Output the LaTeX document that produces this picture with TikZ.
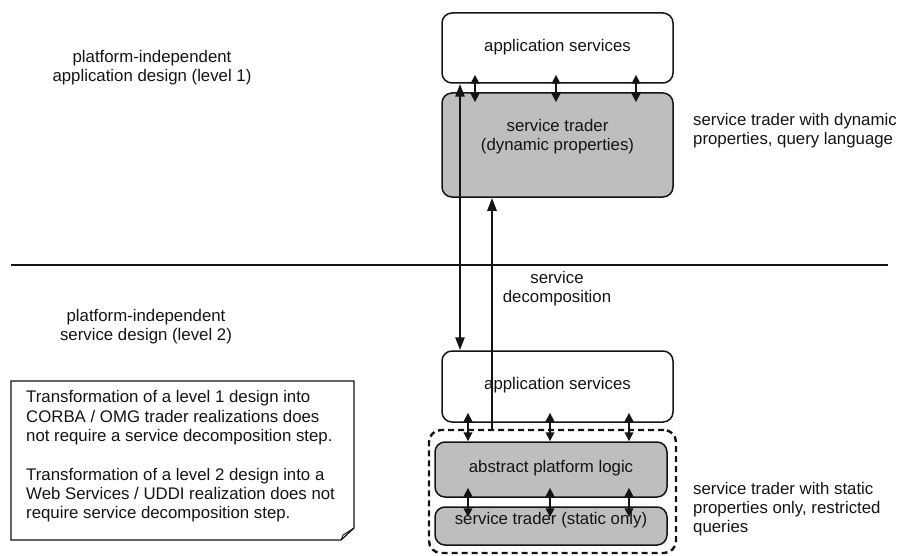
\documentclass[tikz,border=0pt]{standalone}
\usepackage{fontspec}
\setmainfont{Liberation Sans}
\usetikzlibrary{arrows.meta,calc}
\definecolor{boxgray}{RGB}{190,190,190}
\definecolor{inkblack}{RGB}{20,20,20}
\tikzset{
  txt/.style={font=\fontsize{16.8}{19.3}\selectfont, text=inkblack, inner sep=0pt},
  layerbox/.style={draw=inkblack, line width=1.5pt, rounded corners=10pt, inner sep=0pt},
  whitebox/.style={layerbox, fill=white},
  graybox/.style={layerbox, fill=boxgray},
  groupbox/.style={draw=inkblack, line width=2.4pt, dash pattern=on 6pt off 4pt, rounded corners=12pt},
  dbl/.style={draw=inkblack, line width=2.6pt, {Triangle[length=9pt,width=8.5pt]}-{Triangle[length=9pt,width=8.5pt]}},
  longarrow/.style={draw=inkblack, line width=2.6pt, -{Triangle[length=13pt,width=9pt]}},
  longdbl/.style={draw=inkblack, line width=2.6pt, {Triangle[length=13pt,width=9pt]}-{Triangle[length=13pt,width=9pt]}},
}
\begin{document}
\begin{tikzpicture}[x=1pt,y=-1pt]
\useasboundingbox (0,0) rectangle (901,556);

% separator between the two design levels
\coordinate (sepL) at (11,265);
\coordinate (sepR) at (888,265);
\draw[inkblack, line width=1.2pt] (sepL) -- (sepR);

% level labels
\node[txt, align=center] (lvl1) at (152,67.5) {platform-independent\\application design (level 1)};
\node[txt, align=center] (lvl2) at (146,326.5) {platform-independent\\service design (level 2)};

% level 1 stack
\node[whitebox, minimum width=231pt, minimum height=70pt] (app1) at (557.5,48) {};
\node[txt] (app1t) at (557.5,47) {application services};
\node[graybox, minimum width=231pt, minimum height=104pt] (trd1) at (557.5,145) {};
\node[txt, align=center] (trd1t) at (557.5,137) {service trader\\(dynamic properties)};

% level 2 stack
\node[groupbox, minimum width=247pt, minimum height=123pt] (grp) at (552.5,491.5) {};
\node[whitebox, minimum width=231pt, minimum height=71pt] (app2) at (557.5,386.5) {};
\node[txt] (app2t) at (557.5,385) {application services};
\node[graybox, minimum width=232pt, minimum height=55pt] (apl) at (551,469.5) {};
\node[txt] (aplt) at (551,468) {abstract platform logic};
\node[graybox, minimum width=232pt, minimum height=38pt] (st2) at (551,526) {};
\node[txt] (st2t) at (551,520) {service trader (static only)};

% side annotations
\node[txt, align=left, anchor=west] (dynnote) at (693,131) {service trader with dynamic\\properties, query language};
\node[txt, align=left, anchor=west] (statnote) at (693,509) {service trader with static\\properties only, restricted\\queries};
\node[txt, align=center] (decomp) at (557,289) {service\\decomposition};

% x positions of the vertical connectors
\coordinate (ua) at (475,0);
\coordinate (ub) at (556,0);
\coordinate (uc) at (636,0);
\coordinate (la) at (468,0);
\coordinate (lb) at (550,0);
\coordinate (lc) at (629,0);
\coordinate (xa) at (460,0);
\coordinate (xb) at (492,0);

% application services <-> dynamic trader
\foreach \c in {ua,ub,uc}
  \draw[dbl] ($(app1.south -| \c)+(0,-9)$) -- ($(trd1.north -| \c)+(0,10)$);

% application services <-> abstract platform logic
\foreach \c in {la,lb,lc}
  \draw[dbl] ($(app2.south -| \c)+(0,-10)$) -- (apl.north -| \c);

% abstract platform logic <-> static trader
\foreach \c in {la,lb,lc}
  \draw[dbl] ($(apl.south -| \c)+(0,-10)$) -- ($(st2.north -| \c)+(0,11)$);

% refinement between the levels
\draw[longdbl] (app1.south -| xa) -- (app2.north -| xa);
\draw[longarrow] (grp.north -| xb) -- (trd1.south -| xb);

% note with folded corner
\coordinate (nTL) at (11,381);
\coordinate (nTR) at (354,381);
\coordinate (nR) at (354,528);
\coordinate (nB) at (341,540);
\coordinate (nBL) at (11,540);
\coordinate (nF) at (343,535);
\draw[inkblack, line width=1.3pt, fill=white] (nTL) -- (nTR) -- (nR) -- (nB) -- (nBL) -- cycle;
\draw[inkblack, line width=0.9pt] (nR) -- (nF) -- (nB);
\node[txt, align=left, anchor=west] (notet) at (26,456.5) {Transformation of a level 1 design into\\CORBA / OMG trader realizations does\\not require a service decomposition step.\\[19.3pt]Transformation of a level 2 design into a\\Web Services / UDDI realization does not\\require service decomposition step.};
\end{tikzpicture}
\end{document}
